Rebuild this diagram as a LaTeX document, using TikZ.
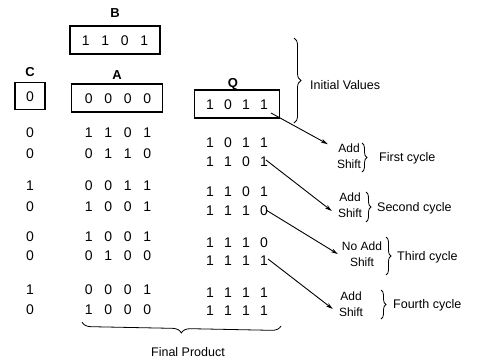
\documentclass[tikz,border=0pt]{standalone}
\usepackage{fontspec}
\setmainfont{Liberation Sans}
\usetikzlibrary{decorations.pathreplacing,arrows.meta}
\newcommand\bitrowA[4]{\makebox[19.5pt]{#1}\makebox[19.5pt]{#2}\makebox[19.5pt]{#3}\makebox[19.5pt]{#4}}
\newcommand\bitrowQ[4]{\makebox[18pt]{#1}\makebox[18pt]{#2}\makebox[18pt]{#3}\makebox[18pt]{#4}}
\begin{document}
\begin{tikzpicture}[x=1pt,y=-1pt,
  reg/.style={draw,line width=1.6pt,inner sep=0pt},
  lbl/.style={font=\fontsize{13}{15}\selectfont\bfseries},
  dig/.style={font=\fontsize{14}{16}\selectfont,inner sep=0pt},
  op/.style={font=\fontsize{12}{16.5}\selectfont,align=center,inner sep=0pt},
  note/.style={font=\fontsize{12.5}{14}\selectfont,anchor=west,inner sep=0pt},
  brc/.style={decorate,decoration={brace,amplitude=5pt},line width=0.8pt},
  arr/.style={-{Stealth[length=7pt,width=4pt]},line width=0.9pt}]
\useasboundingbox (0,0) rectangle (481,362);

% labels
\node[lbl] (lB) at (115,13) {B};
\node[lbl] (lC) at (30,72) {C};
\node[lbl] (lA) at (117,75) {A};
\node[lbl] (lQ) at (233,84) {Q};

% registers
\node[reg,minimum width=90pt,minimum height=28pt] (B) at (115,40) {};
\node[dig] (Bd) at (115,41) {\bitrowA1101};
\node[reg,minimum width=30pt,minimum height=27pt] (C) at (30,96) {};
\node[dig] (Cd) at (30,97) {0};
\node[reg,minimum width=91pt,minimum height=28pt] (A) at (117,98) {};
\node[dig] (Ad) at (118,99) {\bitrowA0000};
\node[reg,minimum width=85pt,minimum height=28pt] (Q) at (237,104) {};
\node[dig] (Qd) at (237,105) {\bitrowQ1011};

% rows
\foreach \n/\y/\c/\a in {
  1/133/0/{1101},
  2/154/0/{0110},
  3/186/1/{0011},
  4/207/0/{1001},
  5/237/0/{1001},
  6/256/0/{0100},
  7/290/1/{0001},
  8/310/0/{1000}}{
  \node[dig] (c\n) at (30,\y) {\c};
  \node[dig] (a\n) at (118,\y) {\expandafter\bitrowA\a};
}
\foreach \n/\y/\q in {1/143/{1011},2/162/{1101},3/192/{1101},4/211/{1110},
  5/243/{1110},6/261/{1111},7/293/{1111},8/311/{1111}}{
  \node[dig] (q\n) at (237,\y) {\expandafter\bitrowQ\q};
}

% initial values brace
\coordinate (ivt) at (294,38);
\coordinate (ivb) at (294,123);
\draw[brc,decoration={amplitude=7pt}] (ivt) -- (ivb);
\node[note] (iv) at (310,85) {Initial Values};

% operations
\node[op] (op1) at (349,156) {Add\\Shift};
\node[op] (op2) at (350,205) {Add\\Shift};
\node[op] (op3) at (362,254) {No Add\\Shift};
\node[op] (op4) at (351,304) {Add\\Shift};

% arrows
\coordinate (s1) at (271,113);
\coordinate (s2) at (266,160);
\coordinate (s3) at (266,210);
\coordinate (s4) at (268,259);
\draw[arr] (s1) -- ([xshift=-9pt,yshift=-1pt]op1.north west);
\draw[arr] (s2) -- ([xshift=-6pt,yshift=-6pt]op2.west);
\draw[arr] (s3) -- ([xshift=-4pt]op3.west);
\draw[arr] (s4) -- ([xshift=-6pt,yshift=-5pt]op4.west);

% cycle braces
\coordinate (b1t) at (362,143); \coordinate (b1b) at (362,172);
\coordinate (b2t) at (366,192); \coordinate (b2b) at (366,222);
\coordinate (b3t) at (386,237); \coordinate (b3b) at (386,275);
\coordinate (b4t) at (381,290); \coordinate (b4b) at (381,319);
\draw[brc] (b1t) -- (b1b);
\draw[brc] (b2t) -- (b2b);
\draw[brc] (b3t) -- (b3b);
\draw[brc] (b4t) -- (b4b);
\node[note] (n1) at (379,158) {First cycle};
\node[note] (n2) at (377,208) {Second cycle};
\node[note] (n3) at (397,257) {Third cycle};
\node[note] (n4) at (393,305) {Fourth cycle};

% final product
\coordinate (fpr) at (281,326);
\coordinate (fpl) at (82,322);
\draw[brc,decoration={amplitude=9pt}] (fpr) -- (fpl);
\node[note,anchor=center] (fp) at (188,352) {Final Product};
\end{tikzpicture}
\end{document}
